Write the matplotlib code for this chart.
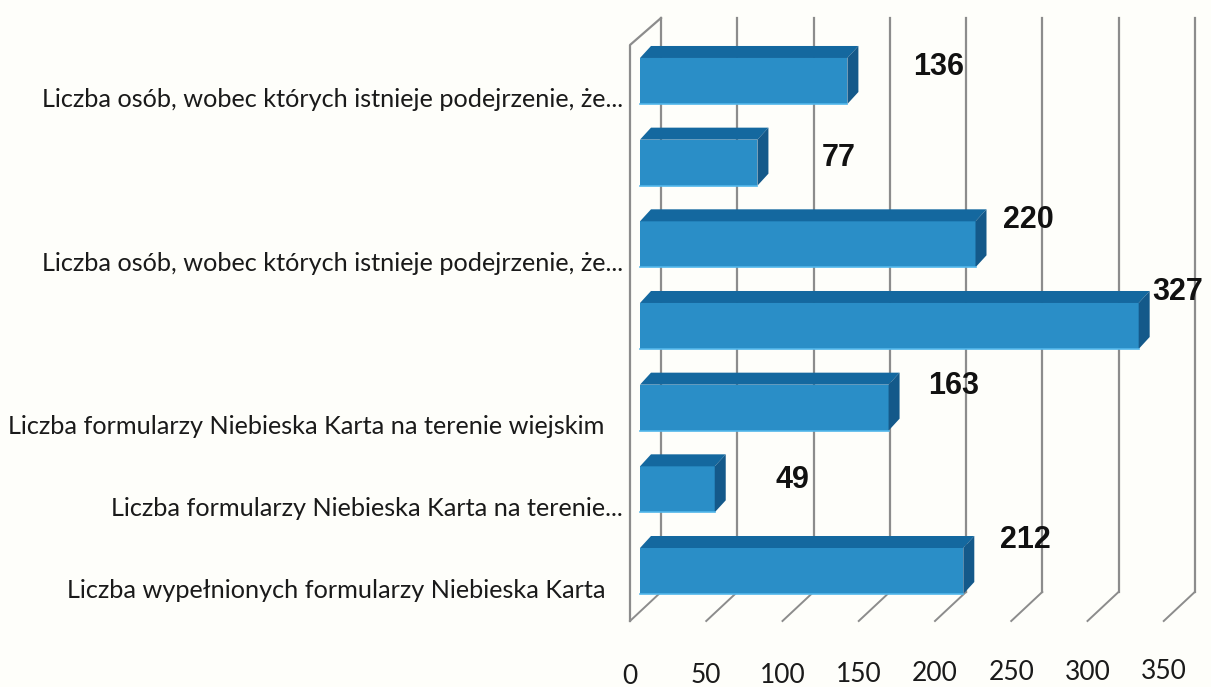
import matplotlib
matplotlib.use("Agg")
import matplotlib.pyplot as plt
import matplotlib.transforms as mtrans

categories = [
    "Liczba wypełnionych formularzy Niebieska Karta",
    "Liczba formularzy Niebieska Karta na terenie...",
    "Liczba formularzy Niebieska Karta na terenie wiejskim",
    "",
    "Liczba osób, wobec których istnieje podejrzenie, że...",
    "",
    "Liczba osób, wobec których istnieje podejrzenie, że...",
]
values = [212, 49, 163, 327, 220, 77, 136]
xticks = [0, 50, 100, 150, 200, 250, 300, 350]

# label shift from bar end, in pixels
label_dx = [62, 78, 65, 39, 53, 81, 91]
label_dy = [31, 9, 22, 34, 24, 5, 14]
# the two full length labels stop a bit short of the others
cat_dx = [-18, 0, -19, 0, 0, 0, 0]

W, H = 1211, 687
fig = plt.figure(figsize=(W / 100, H / 100), dpi=100, facecolor="#fefefa")
ax = fig.add_axes([630 / W, (H - 623) / H, (W - 630) / W, 623 / H])
ax.set_facecolor("none")

px_x = 1.525   # pixels per unit
px_y = 81.67   # pixels per category
ax.set_xlim(-10 / px_x, (W - 640) / px_x)
ax.set_ylim((571 - 623) / px_y, 571 / px_y)

back = 21 / px_x
front = -10 / px_x
floor_top = (571 - 592) / px_y
floor_bot = (571 - 621) / px_y
wall_top = (571 - 18) / px_y
grid = "#8c8c8c"

# back wall and floor lines
for t in xticks:
    ax.plot([t + back, t + back], [floor_top, wall_top], color=grid, lw=1.6, zorder=1, clip_on=False)
    ax.plot([t + front, t + back], [floor_bot, floor_top], color=grid, lw=1.4, zorder=1, clip_on=False)
# side wall
ax.plot([front, front, back], [floor_bot, (571 - 45) / px_y, wall_top], color=grid, lw=1.6, zorder=1, clip_on=False)

ypos = list(range(len(values)))
h = 46 / px_y
dx = 11 / px_x
dy = 12 / px_y
ax.barh(ypos, values, height=h, color="#2a8ec7", zorder=3)
for y, v in zip(ypos, values):
    top = y + h / 2
    bot = y - h / 2
    ax.fill([0, dx, v + dx, v], [top, top + dy, top + dy, top], color="#14689f", lw=0, zorder=3)
    ax.fill([v, v + dx, v + dx, v], [top, top + dy, bot + dy, bot], color="#14598a", lw=0, zorder=3)
    ax.plot([0, v], [bot, bot], color="#52b6ea", lw=1.2, zorder=4)

# value labels
for y, v, a, b in zip(ypos, values, label_dx, label_dy):
    ax.annotate(str(v), (v, y), xytext=(a / 100 * 72, b / 100 * 72), textcoords="offset points",
                ha="center", va="center", fontsize=22, fontweight="bold",
                family="Liberation Sans", color="#111111", zorder=5, annotation_clip=False)

for s in ax.spines.values():
    s.set_visible(False)

ax.set_xticks(xticks)
ax.set_xticklabels([str(t) for t in xticks], family="Lato", fontsize=19, color="#1a1a1a")
ax.tick_params(axis="x", length=0, pad=26)
# scan of the page is slightly tilted, labels climb to the right
for lab, t in zip(ax.get_xticklabels(), xticks):
    shift = mtrans.ScaledTranslation(-10 / 100, (-5 + t * 0.015) / 100, fig.dpi_scale_trans)
    lab.set_transform(lab.get_transform() + shift)

ax.set_yticks(ypos)
ax.set_yticklabels(categories, family="Lato", fontsize=18.2, color="#1a1a1a")
ax.tick_params(axis="y", length=0, pad=5)
for lab, c in zip(ax.get_yticklabels(), cat_dx):
    lab.set_transform(lab.get_transform() + mtrans.ScaledTranslation(c / 100, -17 / 100, fig.dpi_scale_trans))

fig.savefig("out.png", dpi=100, facecolor=fig.get_facecolor())
